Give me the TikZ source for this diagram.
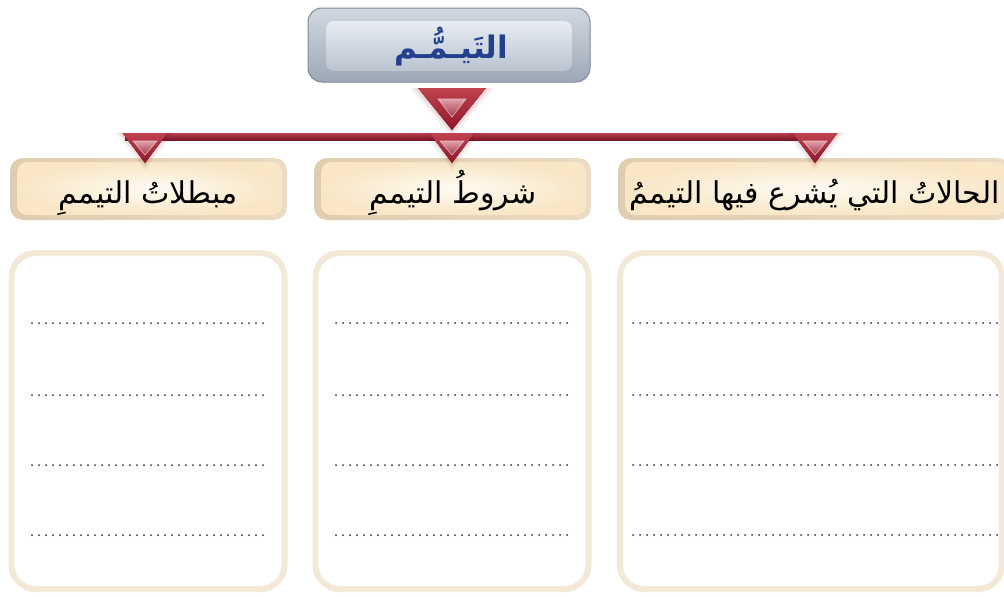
\documentclass[tikz,border=0pt]{standalone}
\usepackage{fontspec}
\newfontfamily\arabicfont[Script=Arabic]{DejaVu Sans}
\TeXXeTstate=1
\definecolor{tborder}{HTML}{7F8A99}
\definecolor{ttop}{HTML}{D2D8E0}
\definecolor{tbot}{HTML}{9DA8B6}
\definecolor{itop}{HTML}{E8ECF2}
\definecolor{ibot}{HTML}{BAC3CF}
\definecolor{ttext}{HTML}{23408F}
\definecolor{darkred}{HTML}{8E1529}
\definecolor{midred}{HTML}{C0424F}
\definecolor{lightred}{HTML}{E3A0A8}
\definecolor{bartop}{HTML}{B8404F}
\definecolor{barbot}{HTML}{7A1226}
\definecolor{hedge}{HTML}{EBDBC2}
\definecolor{hedgedark}{HTML}{E0CCAE}
\definecolor{hin}{HTML}{FFFBF2}
\definecolor{hout}{HTML}{F8E6C6}
\definecolor{cedge}{HTML}{F4E8D8}
\definecolor{dotc}{HTML}{333333}
\tikzset{
  titleframe/.style={rounded corners=14pt, draw=tborder, line width=1pt, top color=ttop, bottom color=tbot},
  titlepanel/.style={rounded corners=8pt, top color=itop, bottom color=ibot},
  titletext/.style={anchor=base, inner sep=0pt, font=\arabicfont\bfseries\fontsize{31}{36}\selectfont, text=ttext},
  headframe/.style={rounded corners=13pt, left color=hedgedark, right color=hedge},
  headpanel/.style={rounded corners=10pt, inner color=hin, outer color=hout},
  headtext/.style={anchor=base, inner sep=0pt, font=\arabicfont\fontsize{30}{36}\selectfont, text=black},
  contentbox/.style={rounded corners=24pt, draw=cedge, line width=6pt},
  dotline/.style={draw=dotc, line width=2pt, line cap=round, dash pattern=on 0pt off 7pt},
  glow/.style={fill=darkred, opacity=0.06},
  tri/.style={top color=midred, bottom color=darkred},
  triin/.style={top color=lightred, bottom color=darkred!85, draw=lightred!70!white, line width=0.6pt},
}
\begin{document}
\begin{tikzpicture}[x=1pt,y=-1pt]
\useasboundingbox (0,0) rectangle (1004,597);
% title
\path[titleframe] (308,8) rectangle (590,82);
\path[titlepanel] (326,21) rectangle (572,71);
\node[titletext] (ttl) at (451,58) {\beginR التَيـمُّـم\endR};
% headers
\path[headframe] (10,158) rectangle (287,220);
\path[headframe] (314,158) rectangle (591,220);
\path[headframe] (618,158) rectangle (1010,220);
\path[headpanel] (17,162) rectangle (282,215);
\path[headpanel] (321,162) rectangle (586,215);
\path[headpanel] (625,162) rectangle (1006,215);
\node[headtext] (t1) at (148,203) {\beginR مبطلاتُ التيممِ\endR};
\node[headtext] (t2) at (453,203) {\beginR شروطُ التيممِ\endR};
\node[headtext, anchor=base east] (t3) at (1000,203) {\beginR الحالاتُ التي يُشرع فيها التيممُ\endR};
% bar
\shade[top color=bartop, bottom color=barbot] (125,133) rectangle (822,140);
% big triangle
\foreach \g in {8,5,3}{
  \fill[glow] (418-\g,88) -- (486+\g,88) -- (452,130+\g) -- cycle;
}
\fill[tri] (418,88) -- (486,88) -- (452,130) -- cycle;
\fill[triin] (438,99) -- (466,99) -- (452,117) -- cycle;
% small triangles
\foreach \cx in {145,452,815}{
  \foreach \g in {7,4,2}{
    \fill[glow] (\cx-22.5-\g,133) -- (\cx+22.5+\g,133) -- (\cx,163+\g) -- cycle;
  }
  \fill[tri] (\cx-22.5,133) -- (\cx+22.5,133) -- (\cx,163) -- cycle;
  \fill[triin] (\cx-12,141) -- (\cx+12,141) -- (\cx,155) -- cycle;
}
% content boxes
\draw[contentbox] (11.5,253) rectangle (284.5,589);
\draw[contentbox] (315.5,253) rectangle (588.5,589);
\draw[contentbox] (620,253) rectangle (1002,589);
\foreach \yy in {323,395,465,535}{
  \draw[dotline] (32,\yy) -- (268,\yy);
  \draw[dotline] (336,\yy) -- (574,\yy);
  \draw[dotline] (633,\yy) -- (1000,\yy);
}
\end{tikzpicture}
\end{document}
